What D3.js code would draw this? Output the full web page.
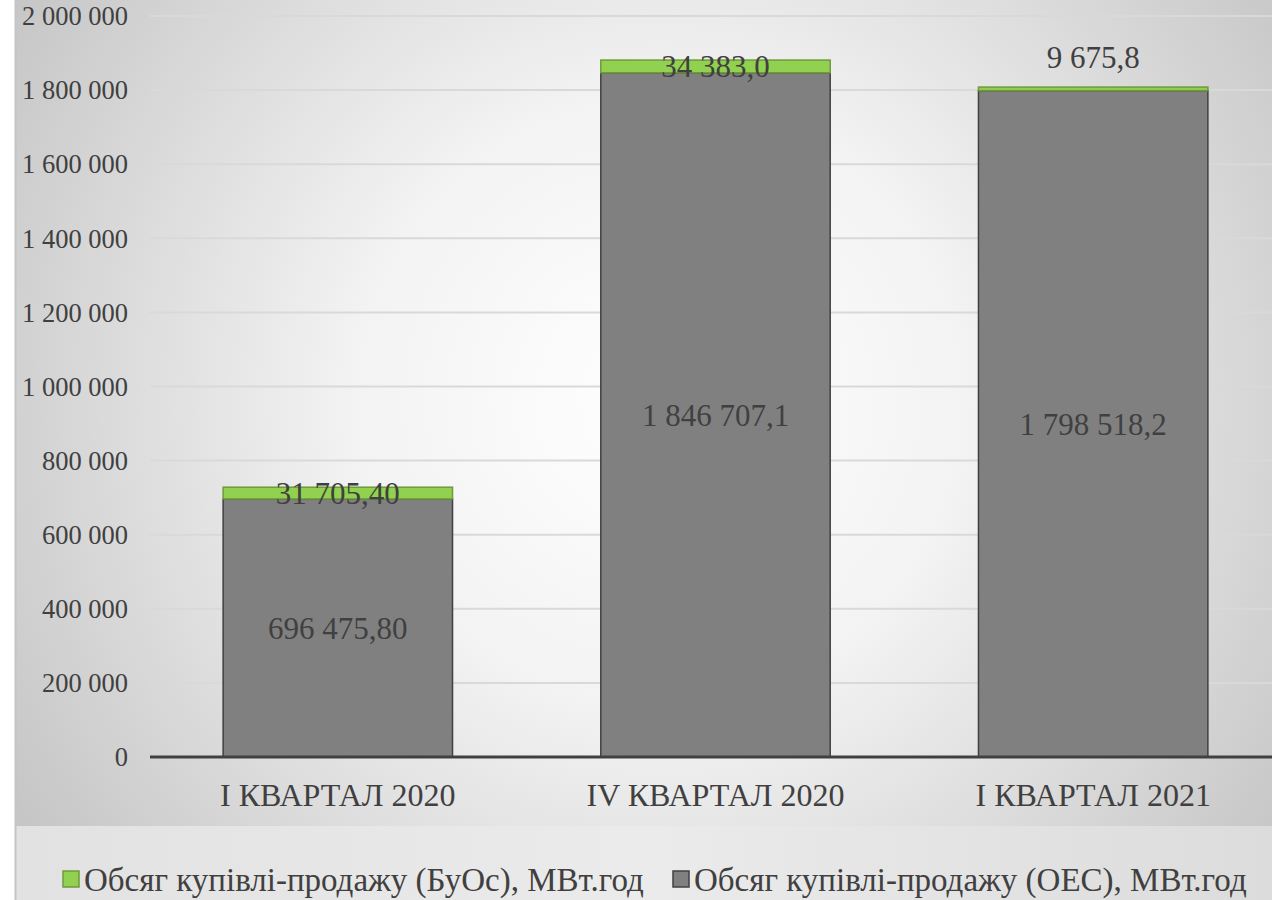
<!DOCTYPE html>
<html>
<head>
<meta charset="utf-8">
<script src="https://cdn.jsdelivr.net/npm/d3@7"></script>
<style>
  body { margin: 0; background: #fff; }
</style>
</head>
<body>
<div id="chart"></div>
<script>
var categories = ["I КВАРТАЛ 2020", "IV КВАРТАЛ 2020", "I КВАРТАЛ 2021"];
var oesValues = [696475.80, 1846707.1, 1798518.2];
var buosValues = [31705.40, 34383.0, 9675.8];
var oesLabels = ["696 475,80", "1 846 707,1", "1 798 518,2"];
var buosLabels = ["31 705,40", "34 383,0", "9 675,8"];
var yTicks = [0, 200000, 400000, 600000, 800000, 1000000, 1200000, 1400000, 1600000, 1800000, 2000000];
var seriesNames = ["Обсяг купівлі-продажу (БуОс), МВт.год", "Обсяг купівлі-продажу (ОЕС), МВт.год"];

var FONT = "'Liberation Serif'";

function init() {
    var w = 1272;
    var h = 900;

    var svg = d3.select("#chart")
                .append("svg")
                .attr("width", w)
                .attr("height", h);

    var defs = svg.append("defs");
    var rg = defs.append("radialGradient")
                 .attr("id", "bg")
                 .attr("gradientUnits", "userSpaceOnUse")
                 .attr("cx", 660).attr("cy", 400).attr("r", 760);
    rg.append("stop").attr("offset", "0%").attr("stop-color", "#ffffff");
    rg.append("stop").attr("offset", "40%").attr("stop-color", "#f3f3f3");
    rg.append("stop").attr("offset", "100%").attr("stop-color", "#c6c6c6");

    var lg = defs.append("linearGradient")
                 .attr("id", "legbg")
                 .attr("x1", "0%").attr("x2", "100%");
    lg.append("stop").attr("offset", "0%").attr("stop-color", "#e2e2e2");
    lg.append("stop").attr("offset", "50%").attr("stop-color", "#ebebeb");
    lg.append("stop").attr("offset", "100%").attr("stop-color", "#dcdcdc");

    // backgrounds
    svg.append("rect").attr("x", 16).attr("y", 0).attr("width", w - 16).attr("height", 826)
       .attr("fill", "url(#bg)");
    svg.append("rect").attr("x", 16).attr("y", 826).attr("width", w - 16).attr("height", h - 826)
       .attr("fill", "url(#legbg)");
    svg.append("line").attr("x1", 15.5).attr("x2", 15.5).attr("y1", 0).attr("y2", h)
       .attr("stroke", "#c4c4c4").attr("stroke-width", 2);

    var left = 150, right = 1281, top = 16, bottom = 757;

    var x = d3.scaleBand()
              .domain(categories)
              .range([left, right])
              .paddingInner(0.3926)
              .paddingOuter(0.1936);

    var y = d3.scaleLinear()
              .domain([0, 2000000])
              .range([bottom, top]);

    // gridlines
    svg.append("g")
       .selectAll("line")
       .data(yTicks.slice(1))
       .enter()
       .append("line")
       .attr("x1", left)
       .attr("x2", w)
       .attr("y1", function(d) { return y(d); })
       .attr("y2", function(d) { return y(d); })
       .attr("stroke", "#d9d9d9")
       .attr("stroke-width", 2);

    // y axis labels
    var yAxis = d3.axisLeft(y)
                  .tickValues(yTicks)
                  .tickSize(0)
                  .tickPadding(0)
                  .tickFormat(function(d) { return d3.format(",")(d).replace(/,/g, " "); });
    var yg = svg.append("g").attr("transform", "translate(128,0)").call(yAxis);
    yg.select(".domain").remove();
    yg.selectAll("text")
      .style("font-family", FONT)
      .attr("font-size", 26.5)
      .attr("dy", "0.33em")
      .attr("fill", "#404040");

    var rows = categories.map(function(c, i) {
        return { cat: c, oes: oesValues[i], buos: buosValues[i], oesLab: oesLabels[i], buosLab: buosLabels[i] };
    });

    // OES bars
    svg.append("g")
       .selectAll("rect")
       .data(rows)
       .enter()
       .append("rect")
       .attr("x", function(d) { return x(d.cat); })
       .attr("y", function(d) { return y(d.oes); })
       .attr("width", x.bandwidth())
       .attr("height", function(d) { return y(0) - y(d.oes); })
       .attr("fill", "#808080")
       .attr("stroke", "#404040")
       .attr("stroke-width", 1.5);

    // BuOs bars
    svg.append("g")
       .selectAll("rect")
       .data(rows)
       .enter()
       .append("rect")
       .attr("x", function(d) { return x(d.cat); })
       .attr("y", function(d) { return y(d.oes + d.buos); })
       .attr("width", x.bandwidth())
       .attr("height", function(d) { return y(d.oes) - y(d.oes + d.buos); })
       .attr("fill", "#92d050")
       .attr("stroke", "#6f9a3c")
       .attr("stroke-width", 1.5);

    // x axis line
    svg.append("line")
       .attr("x1", left).attr("x2", w)
       .attr("y1", y(0)).attr("y2", y(0))
       .attr("stroke", "#404040")
       .attr("stroke-width", 3);

    // category labels
    svg.append("g")
       .selectAll("text")
       .data(categories)
       .enter()
       .append("text")
       .attr("x", function(d) { return x(d) + x.bandwidth() / 2; })
       .attr("y", 806)
       .attr("text-anchor", "middle")
       .style("font-family", FONT)
       .attr("font-size", 32)
       .attr("fill", "#404040")
       .text(function(d) { return d; });

    // OES value labels
    svg.append("g")
       .selectAll("text")
       .data(rows)
       .enter()
       .append("text")
       .attr("x", function(d) { return x(d.cat) + x.bandwidth() / 2; })
       .attr("y", function(d) { return (y(d.oes) + y(0)) / 2; })
       .attr("dy", "0.35em")
       .attr("text-anchor", "middle")
       .style("font-family", FONT)
       .attr("font-size", 31)
       .attr("fill", "#404040")
       .text(function(d) { return d.oesLab; });

    // BuOs value labels
    svg.append("g")
       .selectAll("text")
       .data(rows)
       .enter()
       .append("text")
       .attr("x", function(d) { return x(d.cat) + x.bandwidth() / 2; })
       .attr("y", function(d) {
           var mid = (y(d.oes) + y(d.oes + d.buos)) / 2;
           return d.buos < 20000 ? y(d.oes + d.buos) - 30 : mid;
       })
       .attr("dy", "0.35em")
       .attr("text-anchor", "middle")
       .style("font-family", FONT)
       .attr("font-size", 31)
       .attr("fill", "#404040")
       .text(function(d) { return d.buosLab; });

    // legend
    var legColors = ["#92d050", "#808080"];
    var legStroke = ["#6f9a3c", "#404040"];
    var legX = [63, 673];
    var leg = svg.append("g")
                 .selectAll("g")
                 .data(seriesNames)
                 .enter()
                 .append("g")
                 .attr("transform", function(d, i) { return "translate(" + legX[i] + ",871)"; });
    leg.append("rect")
       .attr("width", 16).attr("height", 16)
       .attr("fill", function(d, i) { return legColors[i]; })
       .attr("stroke", function(d, i) { return legStroke[i]; })
       .attr("stroke-width", 1.5);
    leg.append("text")
       .attr("x", 21)
       .attr("y", 8)
       .attr("dy", "0.35em")
       .style("font-family", FONT)
       .attr("font-size", 33)
       .attr("fill", "#404040")
       .text(function(d) { return d; });
}

window.onload = init;
</script>
</body>
</html>
